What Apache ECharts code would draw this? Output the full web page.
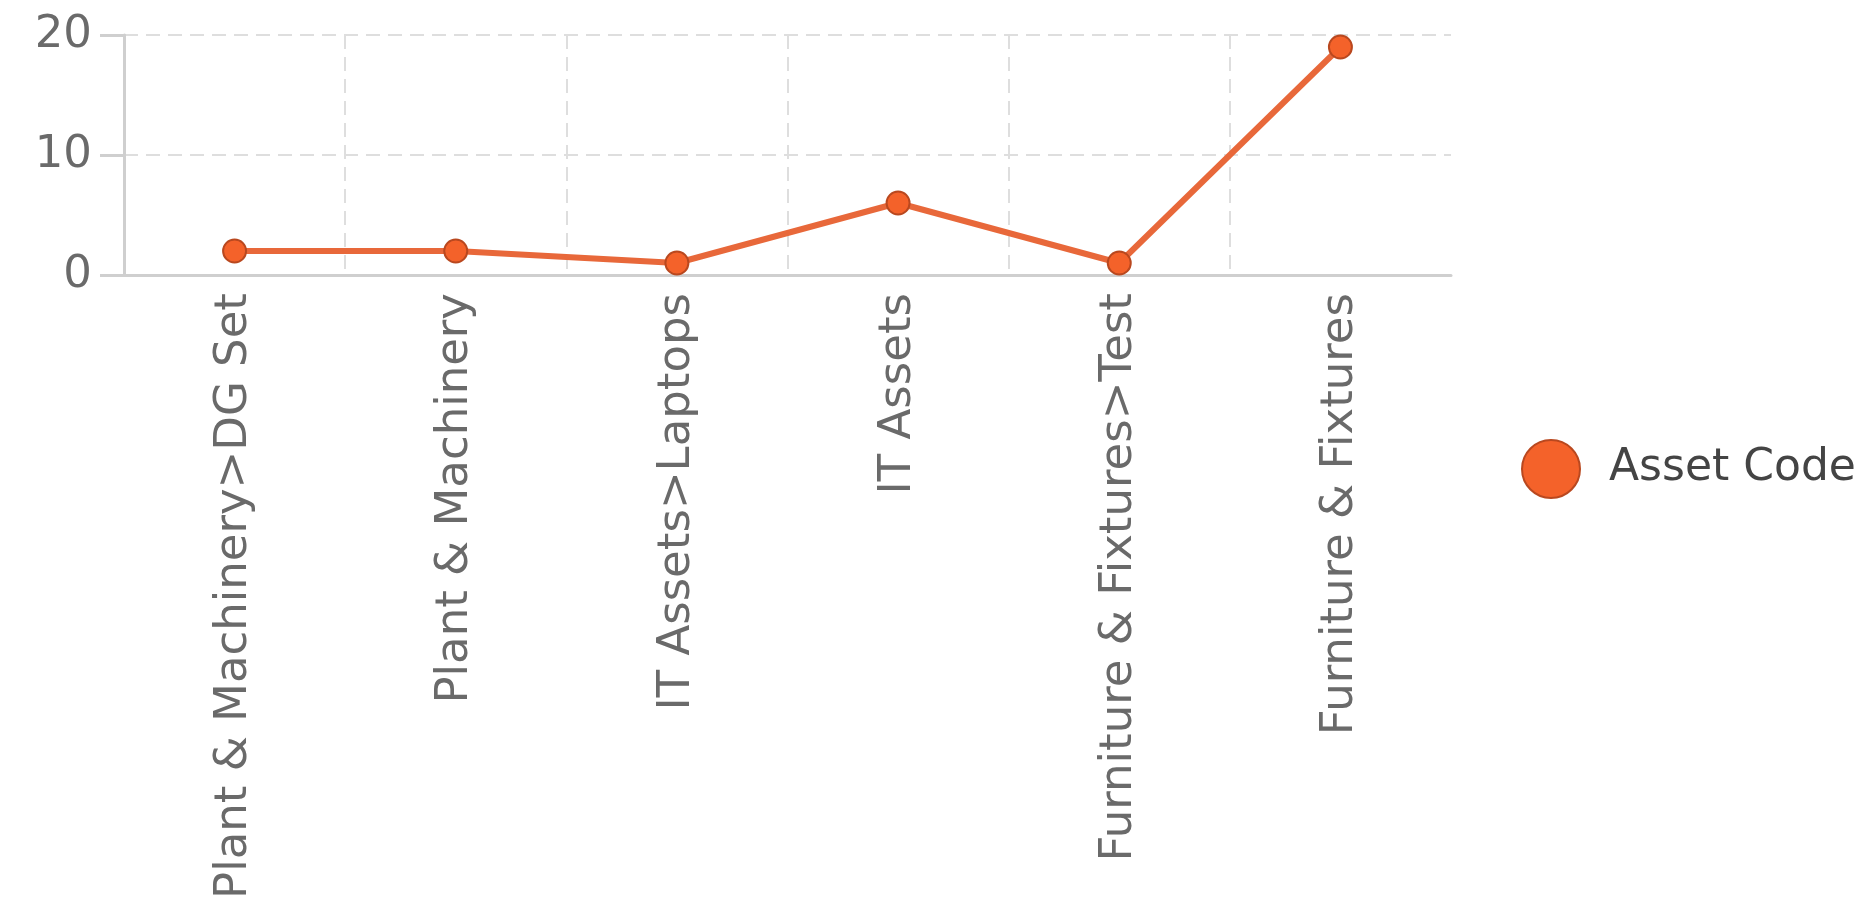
<!DOCTYPE html>
<html>
<head>
<meta charset="utf-8">
<script src="https://cdn.jsdelivr.net/npm/echarts@6/dist/echarts.min.js"></script>
<style>
html,body{margin:0;padding:0;background:#fff;}
#chart{width:1867px;height:904px;}
</style>
</head>
<body>
<div id="chart"></div>
<script>
const categories = [
  "Plant & Machinery>DG Set",
  "Plant & Machinery",
  "IT Assets>Laptops",
  "IT Assets",
  "Furniture & Fixtures>Test",
  "Furniture & Fixtures"
];
const seriesName = "Asset Code";
const values = [2, 2, 1, 6, 1, 19];

const chart = echarts.init(document.getElementById('chart'));
const font = "'DejaVu Sans', Verdana, sans-serif";
chart.setOption({
  backgroundColor: '#ffffff',
  animation: false,
  grid: { left: 124, right: 416, top: 35, bottom: 629, containLabel: false },
  legend: {
    data: [{ name: seriesName, icon: 'circle' }],
    orient: 'vertical',
    left: 1516,
    top: 434,
    itemWidth: 58,
    itemHeight: 58,
    textStyle: { fontFamily: font, fontSize: 44, color: '#444', padding: [0, 0, 0, 24] }
  },
  xAxis: {
    type: 'category',
    data: categories,
    boundaryGap: true,
    axisLine: { lineStyle: { color: '#cfcfcf', width: 3 } },
    axisTick: { show: false },
    axisLabel: { rotate: 90, margin: 18, interval: 0, fontFamily: font, fontSize: 45, color: '#6a6a6a' },
    splitLine: { show: true, interval: 0, showMinLine: false, showMaxLine: false,
      lineStyle: { color: '#dedede', width: 2, type: [14, 8] } }
  },
  yAxis: {
    type: 'value',
    min: 0, max: 20, interval: 10,
    axisLine: { show: true, lineStyle: { color: '#cfcfcf', width: 3 } },
    axisTick: { show: true, length: 24, lineStyle: { color: '#cfcfcf', width: 3 } },
    axisLabel: { margin: 32, fontFamily: font, fontSize: 45, color: '#6a6a6a' },
    splitLine: { show: true, lineStyle: { color: '#dedede', width: 2, type: [14, 8] } }
  },
  series: [{
    name: seriesName,
    type: 'line',
    data: values,
    symbol: 'circle',
    symbolSize: 23,
    lineStyle: { color: '#e8683a', width: 6 },
    itemStyle: { color: '#f4622a', borderColor: '#b9481f', borderWidth: 2 }
  }]
});
</script>
</body>
</html>
